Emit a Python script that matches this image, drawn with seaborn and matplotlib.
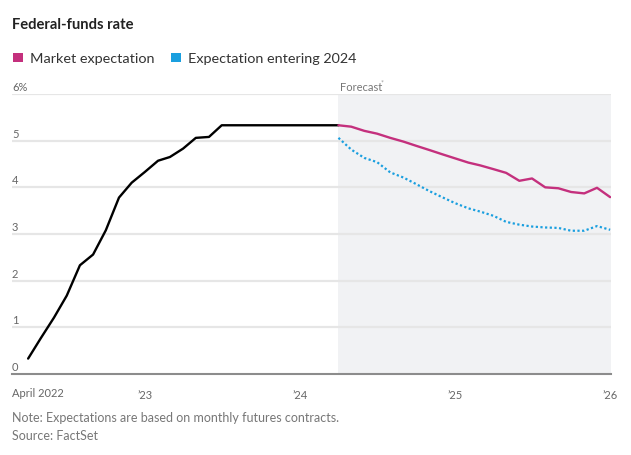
import matplotlib
matplotlib.use("Agg")
import matplotlib.pyplot as plt
import matplotlib.dates as mdates
import matplotlib.transforms as mtransforms
from matplotlib.patches import Rectangle
from matplotlib.ticker import FuncFormatter
import seaborn as sns
import pandas as pd

sns.set_style("white")
plt.rcParams["font.family"] = ["Lato", "DejaVu Sans"]

# effective fed-funds rate, monthly, Apr 2022 .. Apr 2024
hist_dates = pd.date_range("2022-04-01", "2024-04-01", freq="MS")
hist_rate = [0.33, 0.77, 1.21, 1.68, 2.33, 2.56, 3.08, 3.78, 4.10, 4.33,
             4.57, 4.65, 4.83, 5.06, 5.08, 5.33, 5.33, 5.33, 5.33, 5.33,
             5.33, 5.33, 5.33, 5.33, 5.33]

# futures-implied path, Apr 2024 .. Jan 2026
fc_dates = pd.date_range("2024-04-01", "2026-01-01", freq="MS")
market = [5.33, 5.30, 5.21, 5.15, 5.06, 4.98, 4.89, 4.80, 4.71, 4.62, 4.53,
          4.47, 4.39, 4.31, 4.14, 4.19, 4.00, 3.98, 3.90, 3.87, 3.99, 3.79]
entering_2024 = [5.06, 4.81, 4.63, 4.54, 4.32, 4.21, 4.07, 3.92, 3.79, 3.66,
                 3.55, 3.48, 3.39, 3.26, 3.20, 3.16, 3.14, 3.13, 3.07, 3.07,
                 3.17, 3.09]

y_ticks = [0, 1, 2, 3, 4, 5, 6]
y_labels = ["0", "1", "2", "3", "4", "5", "6%"]

MAGENTA = "#c4307d"
BLUE = "#1a9fdf"
GREY_TXT = "#666666"

W, H = 631, 456
fig = plt.figure(figsize=(W / 100, H / 100), dpi=100)


def fx(px):
    return px / W


def fy(py):
    return 1 - py / H


ax = fig.add_axes([fx(12), fy(375), fx(611) - fx(12), fy(95) - fy(375)])

x_left = pd.Timestamp("2022-02-22")
x_right = pd.Timestamp("2026-01-03")
ax.axvspan(fc_dates[0], x_right, color="#f1f2f4", lw=0, zorder=0)
for v in y_ticks[1:]:
    ax.axhline(v, color="#e6e6e6", lw=1.6, zorder=1)

sns.lineplot(x=hist_dates, y=hist_rate, color="black", lw=1.7, ax=ax, zorder=3)
sns.lineplot(x=fc_dates, y=entering_2024, color=BLUE, lw=1.6,
             linestyle=(0, (1, 1.1)), ax=ax, zorder=3)
sns.lineplot(x=fc_dates, y=market, color=MAGENTA, lw=1.7, ax=ax, zorder=4)

ax.set_xlim(x_left, x_right)
ax.set_ylim(0, 6)
ax.set_xlabel("")
ax.set_ylabel("")
ax.set_yticks([])
for s in ["top", "right", "left"]:
    ax.spines[s].set_visible(False)
ax.spines["bottom"].set_color("#8c8c8c")
ax.spines["bottom"].set_linewidth(1.5)
ax.spines["bottom"].set_zorder(5)

ax.xaxis.set_major_locator(mdates.YearLocator())
ax.xaxis.set_minor_locator(mdates.MonthLocator())
ax.xaxis.set_major_formatter(FuncFormatter(
    lambda v, pos: "\u2019" + mdates.num2date(v).strftime("%y")))
ax.tick_params(axis="x", which="major", length=6, width=1, color="#8c8c8c",
               labelsize=8, labelcolor=GREY_TXT, pad=5)
ax.tick_params(axis="x", which="minor", length=3, width=1, color="#8c8c8c")

# y labels sit on top of their gridlines, flush left
trans = mtransforms.blended_transform_factory(ax.transAxes, ax.transData)
for v, lab in zip(y_ticks, y_labels):
    ax.text(0, v + 0.04, lab, transform=trans, ha="left", va="bottom",
            fontsize=8, color=GREY_TXT)

ax.text(fc_dates[0] + pd.Timedelta(days=3), 6.04, "Forecast", ha="left",
        va="bottom", fontsize=8, color="#777777")
fig.text(fx(381), fy(85), "*", fontsize=5, color="#999999", ha="left", va="baseline")

fig.text(fx(12), fy(397), "April 2022", fontsize=8, color=GREY_TXT,
         ha="left", va="baseline")

fig.text(fx(12), fy(29), "Federal-funds rate", fontsize=10.6, fontweight="bold",
         color="#222222", ha="left", va="baseline")

fig.add_artist(Rectangle((fx(12.5), fy(63)), 10 / W, 9 / H,
                         transform=fig.transFigure, color=MAGENTA, lw=0))
fig.text(fx(30.5), fy(63), "Market expectation", fontsize=10.4,
         color="#333333", ha="left", va="baseline")
fig.add_artist(Rectangle((fx(171), fy(63)), 10 / W, 9 / H,
                         transform=fig.transFigure, color=BLUE, lw=0))
fig.text(fx(188), fy(63), "Expectation entering 2024", fontsize=10.4,
         color="#333333", ha="left", va="baseline")

fig.text(fx(12), fy(422), "Note: Expectations are based on monthly futures contracts.",
         fontsize=9, color="#777777", ha="left", va="baseline")
fig.text(fx(12), fy(440), "Source: FactSet", fontsize=9, color="#777777",
         ha="left", va="baseline")

fig.savefig("out.png", dpi=100)
